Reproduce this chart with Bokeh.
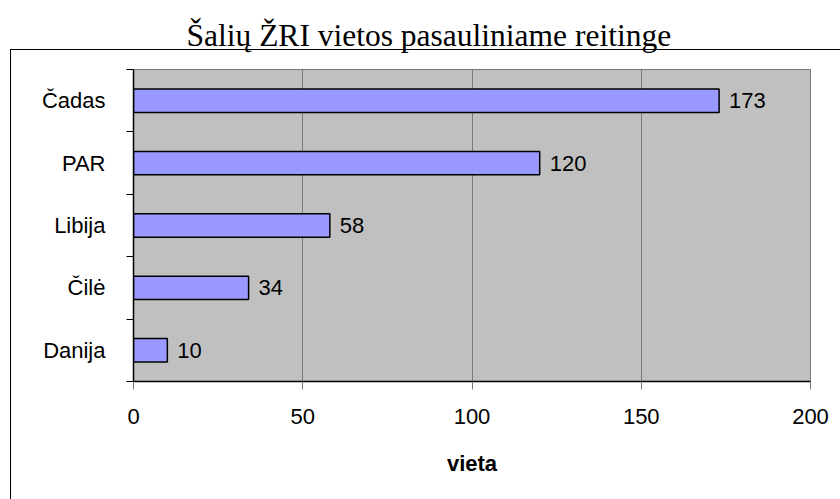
from bokeh.plotting import figure
from bokeh.models import FixedTicker, ColumnDataSource, Range1d
from bokeh.embed import file_html
from bokeh.resources import INLINE
from bokeh.core.properties import value

# data
countries = ["Danija", "Čilė", "Libija", "PAR", "Čadas"]
ranks = [10, 34, 58, 120, 173]
x_ticks = [0, 50, 100, 150, 200]
title_text = "Šalių ŽRI vietos pasauliniame reitinge"
x_label = "vieta"

pos = list(range(1, len(countries) + 1))
src = ColumnDataSource(dict(y=pos, v=ranks, lbl=[str(r) for r in ranks]))

p = figure(width=832, height=491, output_backend="svg", toolbar_location=None,
           x_range=Range1d(0, 200), y_range=Range1d(0.5, len(countries) + 0.5),
           min_border_left=133, min_border_right=22, min_border_top=69,
           min_border_bottom=110, title=title_text)

p.background_fill_color = "#C0C0C0"
p.border_fill_color = "white"
p.outline_line_color = "#7a7a7a"
p.outline_line_width = 1

p.title.text_font = "Liberation Serif"
p.title.text_font_size = "31.5px"
p.title.text_font_style = "normal"
p.title.text_color = "black"
p.title.align = "left"
p.title.vertical_align = "top"
p.title.offset = 53
p.title.standoff = 30

p.hbar(y="y", right="v", left=0, height=0.375, source=src,
       fill_color="#9999FF", line_color="black", line_width=1.5)
p.text(x="v", y="y", text="lbl", source=src, x_offset=10,
       text_font=value("Liberation Sans"), text_font_size="22px",
       text_baseline="middle", text_align="left", text_color="black")

# x axis
p.xaxis.ticker = FixedTicker(ticks=x_ticks)
p.xaxis.axis_label = x_label
p.xaxis.axis_label_text_font = "Liberation Sans"
p.xaxis.axis_label_text_font_size = "22px"
p.xaxis.axis_label_text_font_style = "bold"
p.xaxis.axis_label_text_color = "black"
p.xaxis.axis_label_standoff = 24
p.xaxis.major_label_text_font = "Liberation Sans"
p.xaxis.major_label_text_font_size = "22px"
p.xaxis.major_label_text_color = "black"
p.xaxis.major_label_standoff = 19
p.xaxis.major_tick_out = 8
p.xaxis.major_tick_in = 0
p.xaxis.major_tick_line_color = "#7a7a7a"
p.xaxis.minor_tick_line_color = None
p.xaxis.axis_line_color = "black"
p.xaxis.axis_line_width = 1.5

# y axis: labels at centres, ticks at category boundaries
p.yaxis.ticker = FixedTicker(ticks=pos, minor_ticks=[i + 0.5 for i in range(0, len(countries) + 1)])
p.yaxis.major_label_overrides = {i: c for i, c in zip(pos, countries)}
p.yaxis.major_label_text_font = "Liberation Sans"
p.yaxis.major_label_text_font_size = "22px"
p.yaxis.major_label_text_color = "black"
p.yaxis.major_label_standoff = 21
p.yaxis.major_tick_out = 0
p.yaxis.major_tick_in = 0
p.yaxis.minor_tick_out = 7
p.yaxis.minor_tick_in = 0
p.yaxis.minor_tick_line_color = "black"
p.yaxis.axis_line_color = "black"
p.yaxis.axis_line_width = 1.5

p.xgrid.grid_line_color = "#7a7a7a"
p.xgrid.grid_line_width = 1
p.ygrid.grid_line_color = None

# outer chart-area border (runs past the right and bottom edge of the window)
p.stylesheets = [
    ":host { position: relative; }"
    " :host::after { content: ''; position: absolute; left: 10px; top: 49px;"
    " width: 860px; height: 480px; border: 1.5px solid black;"
    " pointer-events: none; box-sizing: border-box; }"
]

open("out.html", "w").write(file_html(p, INLINE))
